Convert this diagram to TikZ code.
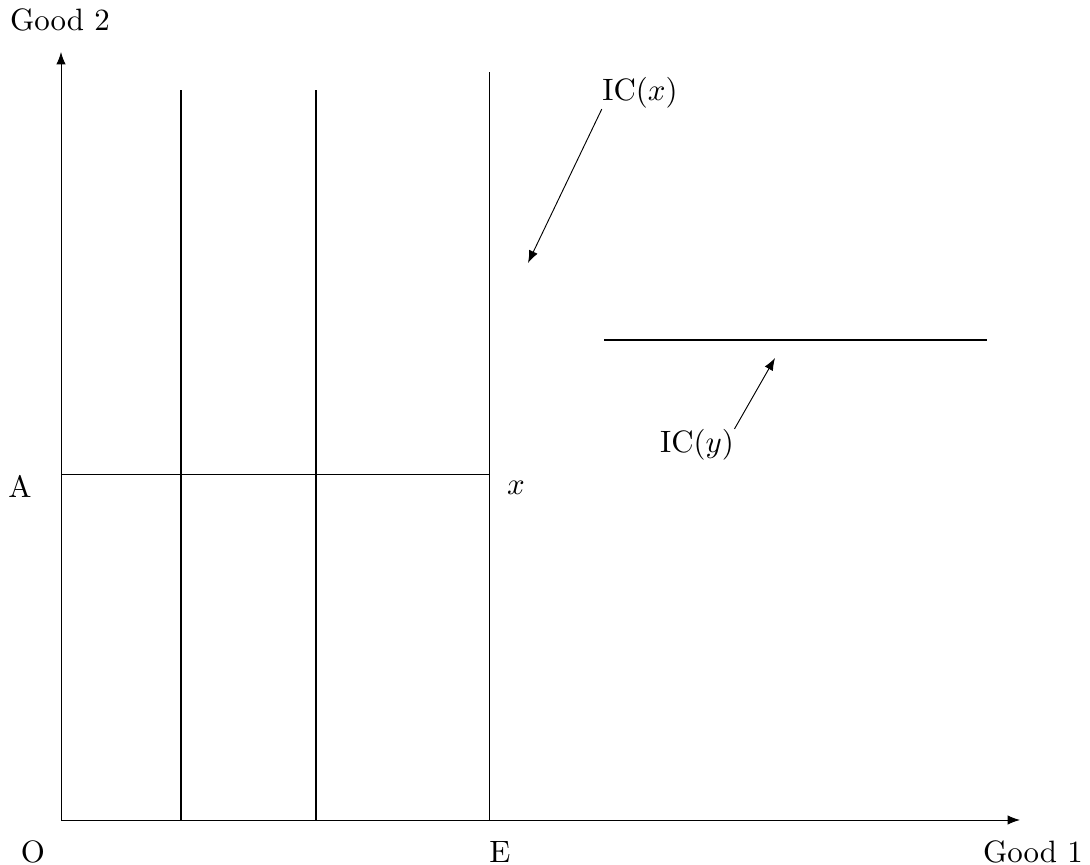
\documentclass[tikz,border=0pt]{standalone}
\usepackage{amsmath,amssymb}
\usepackage{tikz}
\usetikzlibrary{arrows.meta}

\begin{document}
\begin{tikzpicture}[x=0.3236pt,y=0.3236pt,>={Latex[length=4pt,width=3pt]},
    thinline/.style={line width=0.3pt},
    thickline/.style={line width=0.9pt},
    lbl/.style={inner sep=0pt}]
  \useasboundingbox (0,0) rectangle (1090,865);
  % axes
  \coordinate (orig) at (61,45);
  \coordinate (ytip) at (61,813);
  \coordinate (xtip) at (1020,45);
  \draw[thinline,->] (orig) -- (ytip);
  \draw[thinline,->] (orig) -- (xtip);
  \node[lbl] (good2) at (60,845) {Good 2};
  \node[lbl] (good1) at (1033,13) {Good 1};
  \node[lbl] (O) at (33,13) {O};
  \node[lbl] (E) at (500,13) {E};
  \node[lbl] (A) at (20,379) {A};
  \node[lbl] (x) at (516,377) {$x$};
  % lines
  \coordinate (e0) at (489,45);
  \coordinate (e1) at (489,793);
  \coordinate (a1) at (489,391);
  \draw[thinline] (e0) -- (e1);
  \draw[thinline] (orig |- a1) -- (a1);
  \coordinate (v1b) at (181,45);
  \coordinate (v1t) at (181,775);
  \coordinate (v2b) at (316,45);
  \coordinate (v2t) at (316,775);
  \draw[thickline] (v1b) -- (v1t);
  \draw[thickline] (v2b) -- (v2t);
  \coordinate (h0) at (604,525);
  \coordinate (h1) at (987,525);
  \draw[thickline] (h0) -- (h1);
  % labels with arrows
  \node[lbl] (icx) at (640,772) {IC$(x)$};
  \node[lbl] (icy) at (697,420) {IC$(y)$};
  \coordinate (icxend) at (528,602);
  \coordinate (icyend) at (775,507);
  \draw[thinline,->] (icx.south west) -- (icxend);
  \draw[thinline,->] (icy.north east) -- (icyend);
\end{tikzpicture}
\end{document}
